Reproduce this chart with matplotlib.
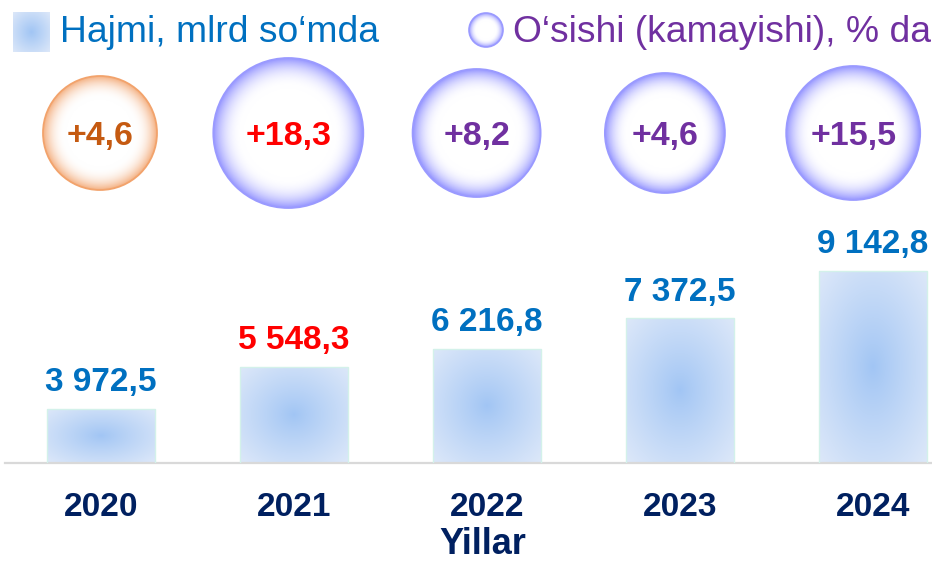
import numpy as np
import matplotlib
matplotlib.use('Agg')
import matplotlib.pyplot as plt
from matplotlib.patches import Circle
from matplotlib.colors import to_rgb

plt.rcParams['font.family'] = ['Liberation Sans', 'DejaVu Sans']

# data
years = ['2020', '2021', '2022', '2023', '2024']
volume = [3972.5, 5548.3, 6216.8, 7372.5, 9142.8]
growth = [4.6, 18.3, 8.2, 4.6, 15.5]
volume_labels = ['3 972,5', '5 548,3', '6 216,8', '7 372,5', '9 142,8']
growth_labels = ['+4,6', '+18,3', '+8,2', '+4,6', '+15,5']

# styles
value_colors = ['#0070C0', '#FF0000', '#0070C0', '#0070C0', '#0070C0']
bubble_text_colors = ['#C55A11', '#FF0000', '#7030A0', '#7030A0', '#7030A0']
bubble_edge = ['#F4B183', '#9797FF', '#9797FF', '#9797FF', '#9797FF']
bubble_line = ['#F2A36C', '#9A9AFF', '#9A9AFF', '#9A9AFF', '#9A9AFF']
bubble_r_px = [57, 75, 64, 60, 67]

W, H, DPI = 932, 562, 100


def radial_img(inner, outer, n=200, power=1.0, start=0.0, corner=False):
    t = np.linspace(-1, 1, n)
    xx, yy = np.meshgrid(t, t)
    d = np.sqrt(xx ** 2 + yy ** 2)
    if corner:
        d = d / np.sqrt(2)
    f = np.clip((d - start) / (1 - start), 0, 1) ** power
    c0 = np.array(to_rgb(inner))
    c1 = np.array(to_rgb(outer))
    img = c0[None, None, :] * (1 - f[..., None]) + c1[None, None, :] * f[..., None]
    return img


fig = plt.figure(figsize=(W / DPI, H / DPI), dpi=DPI)

# bars
x = np.arange(len(years))
ax_left = 4.5 / W
xlim = (-0.5, -0.5 + (W - 4.5) / 193.0)
ax = fig.add_axes([ax_left, (H - 463) / H, 1 - ax_left, 248 / H])
ax.set_xlim(*xlim)
ax.set_ylim(1940, 11230)
bars = ax.bar(x, volume, width=0.555, color='none', edgecolor='#D3F1EA', linewidth=1.0, zorder=3)
for b in bars:
    bx, by = b.get_x(), b.get_y()
    bw, bh = b.get_width(), b.get_height()
    img = radial_img('#A1C5F4', '#DDE8F9', corner=True, power=0.9)
    im = ax.imshow(img, extent=[bx, bx + bw, 1940, by + bh], aspect='auto',
                   zorder=2, interpolation='bilinear')
    im.set_clip_path(b)

for i, v in enumerate(volume):
    ax.annotate(volume_labels[i], (x[i], v), xytext=(0, 12.5), textcoords='offset points',
                ha='center', va='baseline', fontsize=24, fontweight='bold',
                color=value_colors[i])

for s in ['top', 'right', 'left']:
    ax.spines[s].set_visible(False)
ax.spines['bottom'].set_color('#D9D9D9')
ax.spines['bottom'].set_linewidth(1.6)
ax.set_yticks([])
ax.set_xticks(x)
ax.set_xticklabels(years, fontsize=24, fontweight='bold', color='#002060')
ax.tick_params(axis='x', length=0, pad=21)
ax.patch.set_visible(False)

# bubbles (their own row, slightly tighter spacing than the bars)
bub_bottom, bub_top = 226, 40
b_step, b_first = 188.3, 100.0
axb = fig.add_axes([0, (H - bub_bottom) / H, 1, (bub_bottom - bub_top) / H])
bxlim = (-b_first / b_step, (W - b_first) / b_step)
axb.set_xlim(*bxlim)
half = (bub_bottom - bub_top) / b_step / 2
axb.set_ylim(-half, half)
axb.axis('off')
for i, g in enumerate(growth):
    r = bubble_r_px[i] / b_step
    img = radial_img('#FFFFFF', bubble_edge[i], start=0.6, power=2.3)
    im = axb.imshow(img, extent=[x[i] - r, x[i] + r, -r, r], zorder=2, interpolation='bilinear')
    c = Circle((x[i], 0), r, facecolor='none', edgecolor=bubble_line[i], linewidth=1.3, zorder=3)
    axb.add_patch(c)
    im.set_clip_path(c)
    axb.annotate(growth_labels[i], (x[i], 0), xytext=(0, -8.8), textcoords='offset points',
                 ha='center', va='baseline', fontsize=24.5, fontweight='bold',
                 color=bubble_text_colors[i], zorder=4)
axb.set_xlim(*bxlim)
axb.set_ylim(-half, half)

# legend (pixel overlay)
lay = fig.add_axes([0, 0, 1, 1])
lay.set_xlim(0, W)
lay.set_ylim(H, 0)
lay.axis('off')
lay.imshow(radial_img('#A1C5F4', '#DDE8F9', corner=True), extent=[13, 50, 52, 12],
           aspect='auto', interpolation='bilinear')
lay.text(60, 33, 'Hajmi, mlrd so\u2018mda', fontsize=26.8, color='#0070C0', va='center', ha='left')
ic = Circle((486, 30), 17, facecolor='none', edgecolor='#9A9AFF', linewidth=1.2)
lay.add_patch(ic)
im = lay.imshow(radial_img('#FFFFFF', '#9797FF', start=0.55, power=2.0),
                extent=[469, 503, 47, 13], interpolation='bilinear')
im.set_clip_path(ic)
lay.text(513, 33, 'O\u2018sishi (kamayishi), % da', fontsize=26.8, color='#7030A0', va='center', ha='left')
lay.set_xlim(0, W)
lay.set_ylim(H, 0)

fig.text(483 / W, (H - 554) / H, 'Yillar', ha='center', va='baseline', fontsize=26,
         fontweight='bold', color='#002060')

fig.savefig('out.png', dpi=DPI)
